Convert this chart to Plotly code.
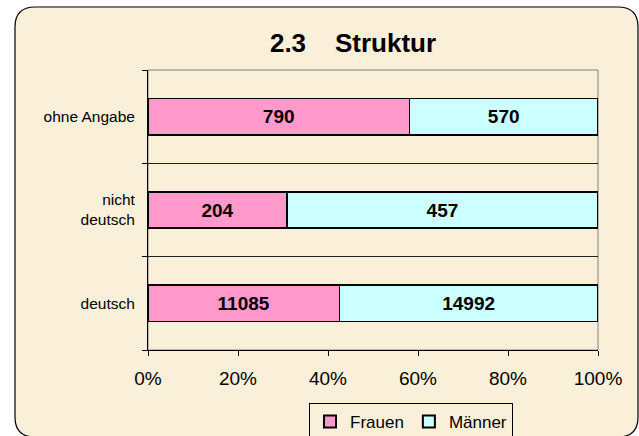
import plotly.graph_objects as go

categories = ["deutsch", "nicht<br>deutsch", "ohne Angabe"]
frauen = [11085, 204, 790]
maenner = [14992, 457, 570]
x_ticks = [0, 20, 40, 60, 80, 100]
x_tick_labels = ["0%", "20%", "40%", "60%", "80%", "100%"]

W, H = 639, 436
L, R, T, B = 148, 41, 70, 86
pw, ph = W - L - R, H - T - B

def px(x):
    return (x - L) / pw

def py(y):
    return (H - B - y) / ph

FONT = "Arial, Liberation Sans, sans-serif"

fig = go.Figure()
for name, vals, col in [("Frauen", frauen, "#FF99CC"), ("Männer", maenner, "#CCFFFF")]:
    fig.add_trace(go.Bar(
        y=categories, x=vals, name=name, orientation="h",
        marker=dict(color=col, line=dict(color="black", width=1.5)),
        text=vals, texttemplate="<b>%{text}</b>", textposition="inside",
        insidetextanchor="middle",
        insidetextfont=dict(color="black", size=19, family=FONT),
        textangle=0, hoverinfo="skip",
    ))

# rounded outer frame
x0, x1, y0, y1, r = px(15), px(638), py(7), py(437), 20
rx, ry = r / pw, r / ph
path = (f"M {x0+rx},{y0} L {x1-rx},{y0} Q {x1},{y0} {x1},{y0-ry} "
        f"L {x1},{y1+ry} Q {x1},{y1} {x1-rx},{y1} L {x0+rx},{y1} "
        f"Q {x0},{y1} {x0},{y1+ry} L {x0},{y0-ry} Q {x0},{y0} {x0+rx},{y0} Z")

fig.update_layout(
    width=W, height=H,
    margin=dict(l=L, r=R, t=T, b=B, autoexpand=False),
    paper_bgcolor="white", plot_bgcolor="rgba(0,0,0,0)",
    barmode="stack", barnorm="percent", bargap=0.61,
    font=dict(family=FONT, color="black"),
    title=dict(text="<b>2.3\u00a0\u00a0\u00a0\u00a0Struktur</b>", x=353 / W, xanchor="center",
               y=1 - 43 / H, yanchor="middle", font=dict(size=26, family=FONT)),
    xaxis=dict(range=[0, 100], tickvals=x_ticks, ticktext=x_tick_labels, showgrid=False,
               ticks="outside", ticklen=5, tickcolor="black", showline=True,
               linecolor="black", linewidth=1, tickfont=dict(size=19), zeroline=False,
               ticklabelstandoff=6, fixedrange=True),
    yaxis=dict(range=[-0.5, 2.5], tickson="boundaries", ticks="outside", ticklen=5,
               tickcolor="black", showgrid=True, gridcolor="#222222", gridwidth=1,
               showline=True, linecolor="black", linewidth=1, tickfont=dict(size=15.5),
               ticklabelstandoff=9, fixedrange=True),
    showlegend=True,
    legend=dict(orientation="h", xref="container", x=411 / W, xanchor="center",
                yref="container", y=(H - 403) / H, yanchor="top",
                bordercolor="black", borderwidth=1, bgcolor="rgba(0,0,0,0)",
                font=dict(size=17), itemsizing="constant", traceorder="normal",
                itemwidth=30),
    shapes=[
        dict(type="path", xref="paper", yref="paper", path=path,
             fillcolor="#FAEFD8", line=dict(color="black", width=1.2), layer="below"),
        dict(type="rect", xref="paper", yref="paper", x0=0, x1=1, y0=0, y1=1,
             line=dict(color="#808080", width=1), layer="below"),
    ],
)
fig.write_html("out.html", config={"displayModeBar": False},
               post_script="document.body.style.margin='0';")
